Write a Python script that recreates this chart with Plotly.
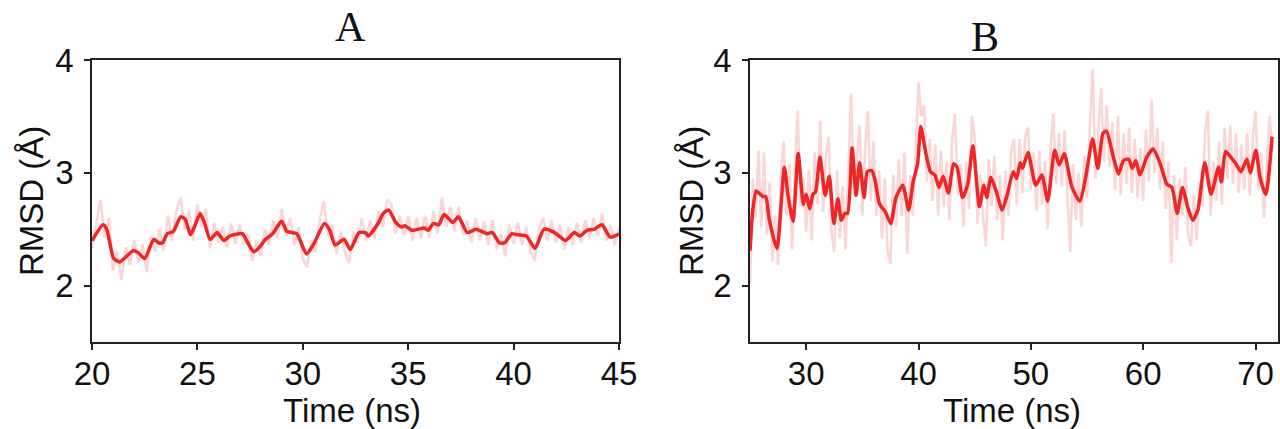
import numpy as np
import plotly.graph_objects as go

# ---------------- Panel A data ----------------
A_t0, A_dt = 20.0, 0.2
A_raw = [
    2.33, 2.56, 2.76, 2.42, 2.60,   # 20
    2.13, 2.30, 2.05, 2.34, 2.18,   # 21
    2.40, 2.20, 2.36, 2.12, 2.44,   # 22
    2.30, 2.50, 2.31, 2.62, 2.40,   # 23
    2.66, 2.78, 2.50, 2.66, 2.40,   # 24
    2.72, 2.52, 2.68, 2.33, 2.56,   # 25
    2.38, 2.52, 2.34, 2.55, 2.37,   # 26
    2.54, 2.36, 2.46, 2.22, 2.40,   # 27
    2.26, 2.50, 2.36, 2.58, 2.42,   # 28
    2.68, 2.44, 2.60, 2.36, 2.52,   # 29
    2.24, 2.16, 2.40, 2.30, 2.58,   # 30
    2.75, 2.44, 2.54, 2.28, 2.48,   # 31
    2.30, 2.20, 2.48, 2.38, 2.60,   # 32
    2.40, 2.58, 2.42, 2.66, 2.52,   # 33
    2.76, 2.72, 2.46, 2.62, 2.44,   # 34
    2.62, 2.40, 2.60, 2.42, 2.62,   # 35
    2.42, 2.66, 2.46, 2.78, 2.52,   # 36
    2.70, 2.48, 2.70, 2.45, 2.58,   # 37
    2.38, 2.60, 2.40, 2.57, 2.36,   # 38
    2.58, 2.32, 2.46, 2.26, 2.54,   # 39
    2.37, 2.56, 2.36, 2.52, 2.30,   # 40
    2.22, 2.50, 2.60, 2.40, 2.58,   # 41
    2.38, 2.54, 2.32, 2.52, 2.36,   # 42
    2.56, 2.38, 2.58, 2.42, 2.60,   # 43
    2.44, 2.64, 2.40, 2.54, 2.36,   # 44
    2.52,                           # 45
]
A_smooth_t = [20.0, 20.53, 20.7, 21.03, 21.32, 21.96, 22.2, 22.5, 22.93, 23.15, 23.35, 23.57,
              23.86, 24.2, 24.42, 24.67, 24.88, 25.13, 25.35, 25.6, 25.94, 26.25, 26.54, 27.13,
              27.39, 27.67, 27.94, 28.23, 28.57, 28.99, 29.25, 29.71, 30.18, 30.52, 31.03, 31.28,
              31.53, 31.96, 32.25, 32.67, 32.97, 33.11, 33.57, 33.82, 34.07, 34.41, 34.67, 34.84,
              35.18, 35.77, 35.94, 36.19, 36.45, 36.7, 37.12, 37.38, 37.8, 38.22, 38.73, 38.99,
              39.32, 39.58, 39.92, 40.17, 40.6, 41.02, 41.44, 41.95, 42.46, 42.88, 43.14, 43.48,
              43.82, 44.19, 44.58, 45.0]
A_smooth_v = [2.40, 2.54, 2.50, 2.24, 2.21, 2.31, 2.29, 2.24, 2.41, 2.38, 2.38, 2.46,
              2.48, 2.61, 2.59, 2.45, 2.53, 2.64, 2.55, 2.41, 2.47, 2.40, 2.44, 2.46,
              2.38, 2.30, 2.34, 2.41, 2.46, 2.57, 2.48, 2.46, 2.28, 2.37, 2.55, 2.49,
              2.36, 2.41, 2.32, 2.47, 2.47, 2.44, 2.55, 2.64, 2.67, 2.56, 2.52, 2.53,
              2.49, 2.51, 2.49, 2.55, 2.54, 2.63, 2.56, 2.61, 2.47, 2.50, 2.46, 2.47,
              2.38, 2.38, 2.46, 2.45, 2.44, 2.33, 2.50, 2.47, 2.40, 2.47, 2.44, 2.49,
              2.50, 2.54, 2.43, 2.46]

# ---------------- Panel B data ----------------
B_t0, B_dt = 25.0, 0.25
B_raw = [
    2.02, 2.95, 2.60, 3.20,   # 25
    2.52, 3.18, 2.45, 2.92,   # 26
    2.22, 2.62, 2.18, 2.98,   # 27
    3.28, 2.62, 3.08, 2.32,   # 28
    3.05, 3.55, 2.70, 2.95,   # 29
    2.48, 3.02, 2.40, 3.18,   # 30
    2.72, 3.46, 2.65, 3.15,   # 31
    3.32, 2.48, 2.30, 3.02,   # 32
    2.42, 2.88, 2.32, 3.05,   # 33
    3.70, 2.80, 3.15, 3.42,   # 34
    2.62, 3.22, 3.55, 2.75,   # 35
    3.28, 2.62, 3.02, 2.42,   # 36
    2.95, 2.30, 2.19, 2.98,   # 37
    2.52, 3.12, 2.62, 3.18,   # 38
    2.28, 2.98, 2.62, 3.30,   # 39
    3.80, 3.50, 3.60, 2.92,   # 40
    3.30, 2.75, 3.25, 2.62,   # 41
    3.20, 2.70, 3.10, 2.58,   # 42
    3.30, 3.52, 2.80, 3.08,   # 43
    2.52, 3.10, 2.68, 3.50,   # 44
    3.30, 2.55, 2.98, 2.60,   # 45
    2.35, 3.12, 2.70, 3.15,   # 46
    2.58, 2.98, 2.40, 3.02,   # 47
    2.62, 3.20, 3.30, 2.72,   # 48
    3.30, 2.82, 3.32, 3.40,   # 49
    2.85, 3.18, 2.66, 3.20,   # 50
    2.72, 3.10, 2.50, 3.22,   # 51
    3.52, 2.90, 3.35, 2.88,   # 52
    3.38, 2.80, 2.30, 3.08,   # 53
    2.58, 3.00, 2.52, 3.15,   # 54
    2.78, 3.40, 3.92, 2.95,   # 55
    3.35, 3.75, 3.10, 3.60,   # 56
    3.05, 3.45, 2.85, 3.50,   # 57
    2.80, 3.35, 2.90, 3.40,   # 58
    2.82, 3.30, 2.78, 3.22,   # 59
    2.75, 3.38, 2.92, 3.65,   # 60
    3.00, 3.40, 2.85, 3.28,   # 61
    2.68, 3.10, 2.20, 2.98,   # 62
    2.40, 2.95, 2.62, 3.05,   # 63
    2.45, 2.35, 2.80, 2.40,   # 64
    2.92, 2.70, 3.35, 3.55,   # 65
    2.62, 3.10, 2.75, 3.28,   # 66
    2.72, 3.40, 2.95, 3.42,   # 67
    2.90, 3.35, 2.82, 3.25,   # 68
    2.85, 3.35, 2.80, 3.30,   # 69
    3.55, 2.85, 3.18, 2.60,   # 70
    3.05, 3.50, 3.20,         # 71
]
B_smooth_t = [25.0, 25.25, 25.55, 25.91, 26.16, 26.4, 26.71, 27.39, 28.06, 28.37, 28.83, 29.29,
              29.75, 30.0, 30.31, 30.61, 30.83, 31.23, 31.69, 32.06, 32.46, 32.83, 33.13, 33.44,
              33.69, 34.09, 34.45, 34.76, 35.16, 35.44, 35.84, 36.14, 36.54, 37.07, 37.53, 37.99,
              38.6, 39.12, 39.52, 39.92, 40.2, 40.6, 41.06, 41.46, 41.83, 42.2, 42.66, 43.12,
              43.43, 43.92, 44.38, 44.84, 45.42, 45.82, 46.07, 46.44, 46.9, 47.45, 47.91, 48.43,
              48.74, 49.05, 49.26, 49.75, 50.43, 50.98, 51.5, 52.12, 52.52, 52.98, 53.66, 54.36,
              54.88, 55.5, 55.96, 56.42, 56.73, 57.34, 57.8, 58.26, 58.72, 59.03, 59.34, 59.71,
              60.32, 60.88, 61.55, 62.1, 62.56, 63.03, 63.49, 63.95, 64.41, 64.87, 65.48, 66.04,
              66.71, 66.96, 67.33, 67.79, 68.25, 68.71, 69.23, 69.54, 70.03, 70.4, 70.92, 71.47]
B_smooth_v = [2.31, 2.67, 2.84, 2.81, 2.79, 2.79, 2.59, 2.33, 3.05, 2.81, 2.57, 3.17,
              2.72, 2.81, 2.68, 2.81, 2.83, 3.14, 2.80, 2.97, 2.55, 2.77, 2.58, 2.64,
              2.64, 3.22, 2.80, 3.09, 2.78, 3.01, 3.02, 2.93, 2.72, 2.65, 2.55, 2.78,
              2.89, 2.67, 2.92, 3.08, 3.41, 3.20, 3.01, 2.98, 2.87, 2.97, 2.82, 3.08,
              3.05, 2.78, 2.90, 3.24, 2.70, 2.89, 2.78, 2.96, 2.84, 2.67, 2.81, 3.01,
              2.95, 3.09, 3.04, 3.18, 2.89, 2.98, 2.75, 3.20, 3.07, 3.17, 2.87, 2.75,
              2.96, 3.30, 3.04, 3.35, 3.37, 3.14, 2.99, 3.11, 3.12, 3.04, 3.11, 2.98,
              3.14, 3.21, 3.07, 2.90, 2.87, 2.64, 2.87, 2.70, 2.58, 2.67, 3.09, 2.81,
              3.05, 2.92, 3.19, 3.14, 3.08, 3.01, 3.12, 3.00, 3.20, 2.96, 2.81, 3.32]

A_xticks = [20, 25, 30, 35, 40, 45]
B_xticks = [30, 40, 50, 60, 70]
Y_ticks = [2, 3, 4]

A_t = [A_t0 + A_dt * i for i in range(len(A_raw))]
B_t = [B_t0 + B_dt * i for i in range(len(B_raw))]

W, H = 1280, 429
RAW_C = "rgba(240,120,120,0.30)"
SM_C = "#ee2626"
FRAME = "#222222"

fig = go.Figure()
fig.add_trace(go.Scatter(x=A_t, y=A_raw, mode="lines", line=dict(color=RAW_C, width=2.6),
                         xaxis="x", yaxis="y", showlegend=False, hoverinfo="skip"))
fig.add_trace(go.Scatter(x=A_smooth_t, y=A_smooth_v, mode="lines",
                         line=dict(color=SM_C, width=3.5, shape="spline", smoothing=0.6),
                         xaxis="x", yaxis="y", showlegend=False))
fig.add_trace(go.Scatter(x=B_t, y=B_raw, mode="lines", line=dict(color=RAW_C, width=2.6),
                         xaxis="x2", yaxis="y2", showlegend=False, hoverinfo="skip"))
fig.add_trace(go.Scatter(x=B_smooth_t, y=B_smooth_v, mode="lines",
                         line=dict(color=SM_C, width=3.5, shape="spline", smoothing=0.6),
                         xaxis="x2", yaxis="y2", showlegend=False))

FONT = dict(family="Liberation Sans, Arial, sans-serif", size=33, color="#111111")
ax_common = dict(showline=True, mirror=True, linecolor=FRAME, linewidth=1.6,
                 ticks="outside", ticklen=6, tickwidth=1.6, tickcolor=FRAME,
                 showgrid=False, zeroline=False, tickfont=FONT, automargin=False)

yd = [1 - 342 / H, 1 - 60 / H]
fig.update_layout(
    width=W, height=H, margin=dict(l=0, r=0, t=0, b=0),
    paper_bgcolor="white", plot_bgcolor="white",
    xaxis=dict(domain=[92 / W, 619 / W], range=[20, 45], tickvals=A_xticks, anchor="y",
               ticklabelstandoff=-4, **ax_common),
    yaxis=dict(domain=yd, range=[1.5, 4], tickvals=Y_ticks, anchor="x", ticklabelstandoff=4, **ax_common),
    xaxis2=dict(domain=[750 / W, 1278 / W], range=[25, 72], tickvals=B_xticks, anchor="y2",
                ticklabelstandoff=-4, **ax_common),
    yaxis2=dict(domain=yd, range=[1.5, 4], tickvals=Y_ticks, anchor="x2", ticklabelstandoff=4, **ax_common),
)

def px(x, y):
    return x / W, 1 - y / H

TFONT = dict(family="Liberation Serif, Times New Roman, serif", size=42, color="#111111")
anns = []
for txt, (x, y) in [("A", (350, 27)), ("B", (985, 37))]:
    ax_, ay_ = px(x, y)
    anns.append(dict(text=txt, x=ax_, y=ay_, xref="paper", yref="paper", showarrow=False,
                     xanchor="center", yanchor="middle", font=TFONT))
for (x, y) in [(352, 410), (1012, 410)]:
    ax_, ay_ = px(x, y)
    anns.append(dict(text="Time (ns)", x=ax_, y=ay_, xref="paper", yref="paper", showarrow=False,
                     xanchor="center", yanchor="middle", font=FONT))
for (x, y) in [(31, 201), (691, 201)]:
    ax_, ay_ = px(x, y)
    anns.append(dict(text="RMSD (Å)", x=ax_, y=ay_, xref="paper", yref="paper", showarrow=False,
                     textangle=-90, xanchor="center", yanchor="middle", font=FONT))
fig.update_layout(annotations=anns)

fig.write_html("out.html", config={"displayModeBar": False},
               post_script="document.body.style.margin='0';document.body.style.overflow='hidden';")
